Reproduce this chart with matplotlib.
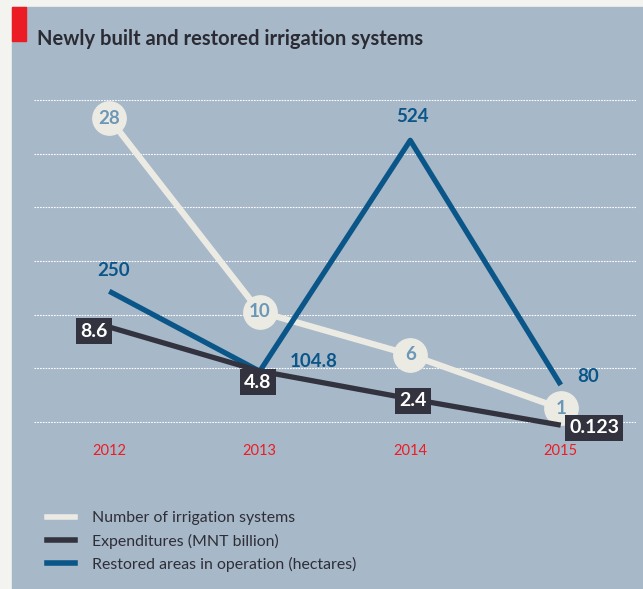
import matplotlib.pyplot as plt
from matplotlib.lines import Line2D
from matplotlib.patches import Rectangle

years = ['2012', '2013', '2014', '2015']
systems = [28, 10, 6, 1]                   # number of irrigation systems
expenditures = [8.6, 4.8, 2.4, 0.123]      # MNT billion
areas = [250, 104.8, 524, 80]              # hectares
expend_labels = ['8.6', '4.8', '2.4', '0.123']
area_labels = ['250', '104.8', '524', '80']

panel = '#a7b8c9'
c_sys = '#ecebe3'
c_exp = '#33333f'
c_area = '#0b5688'
c_sys_txt = '#6c97b8'
red = '#ec1c24'

plt.rcParams['font.family'] = ['Lato', 'DejaVu Sans']

W, H = 643, 589
fig = plt.figure(figsize=(W / 100, H / 100), dpi=100)
fig.patch.set_facecolor('#f3f4ef')
fig.patches.append(Rectangle((12 / W, 0), 1 - 12 / W, 1 - 7 / H,
                             transform=fig.transFigure, color=panel, zorder=-2))
fig.patches.append(Rectangle((12 / W, 1 - 41 / H), 14 / W, 34 / H,
                             transform=fig.transFigure, color=red, zorder=-1))
fig.text(37 / W, 1 - 39 / H, 'Newly built and restored irrigation systems',
         fontsize=14.5, fontweight='bold', color='#2b2b33', va='center')

x = list(range(len(years)))

# base axis: dotted grid and year labels
ax = fig.add_axes([34 / W, 1 - 423 / H, 602 / W, 324 / H])
ax.set_facecolor('none')
ax.set_xlim(-0.5, 3.5)
ax.set_ylim(-0.02, 6.02)
ax.set_yticks(range(7))
ax.yaxis.grid(True, color='white', linestyle=(0, (1.5, 1)), linewidth=0.8)
ax.set_yticklabels([])
ax.set_xticks(x)
ax.set_xticklabels(years, color=red, fontsize=10.5)
ax.tick_params(length=0, pad=15)
for s in ax.spines.values():
    s.set_visible(False)

# each series on its own scale
ax_s = ax.twinx()
ax_a = ax.twinx()
ax_e = ax.twinx()
ax_s.set_ylim(-0.35, 29.8)
ax_a.set_ylim(10.9, 599)
ax_e.set_ylim(0.31, 28.3)
for a in (ax_s, ax_a, ax_e):
    a.set_yticks([])
    for s in a.spines.values():
        s.set_visible(False)

ax_s.plot(x, systems, color=c_sys, lw=4.5, marker='o', ms=24,
          mfc=c_sys, mec=c_sys, solid_capstyle='butt', clip_on=False)
for xi, v in zip(x, systems):
    ax_s.text(xi, v, str(v), ha='center', va='center', color=c_sys_txt,
              fontsize=13.5, fontweight='bold')

ax_a.plot(x, areas, color=c_area, lw=3.8, solid_capstyle='butt', clip_on=False)
area_off = [(3, 15), (39, 7), (1.5, 17), (20, 6)]
for xi, v, lab, off in zip(x, areas, area_labels, area_off):
    ax_a.annotate(lab, (xi, v), xytext=off, textcoords='offset points',
                  ha='center', va='center', color=c_area,
                  fontsize=13.5, fontweight='bold', annotation_clip=False)

ax_e.plot(x, expenditures, color=c_exp, lw=3.8, solid_capstyle='butt',
          clip_on=False)
exp_off = [(-11, -3), (-1.5, -8), (2, -1.5), (24, -2)]
for xi, v, lab, off in zip(x, expenditures, expend_labels, exp_off):
    ax_e.annotate(lab, (xi, v), xytext=off, textcoords='offset points',
                  ha='center', va='center', color='white',
                  fontsize=14, fontweight='bold', annotation_clip=False,
                  bbox=dict(boxstyle='square,pad=0.22', fc=c_exp, ec='none'))

handles = [Line2D([], [], color=c_sys, lw=4),
           Line2D([], [], color=c_exp, lw=4),
           Line2D([], [], color=c_area, lw=4)]
labels = ['Number of irrigation systems', 'Expenditures (MNT billion)',
          'Restored areas in operation (hectares)']
fig.legend(handles, labels, loc='upper left',
           bbox_to_anchor=(33 / W, 1 - 497 / H), frameon=False,
           fontsize=11.4, handlelength=1.75, handletextpad=1.05,
           labelspacing=0.52, labelcolor='#2e2e36')

fig.savefig('out.png', dpi=100, facecolor=fig.get_facecolor())
